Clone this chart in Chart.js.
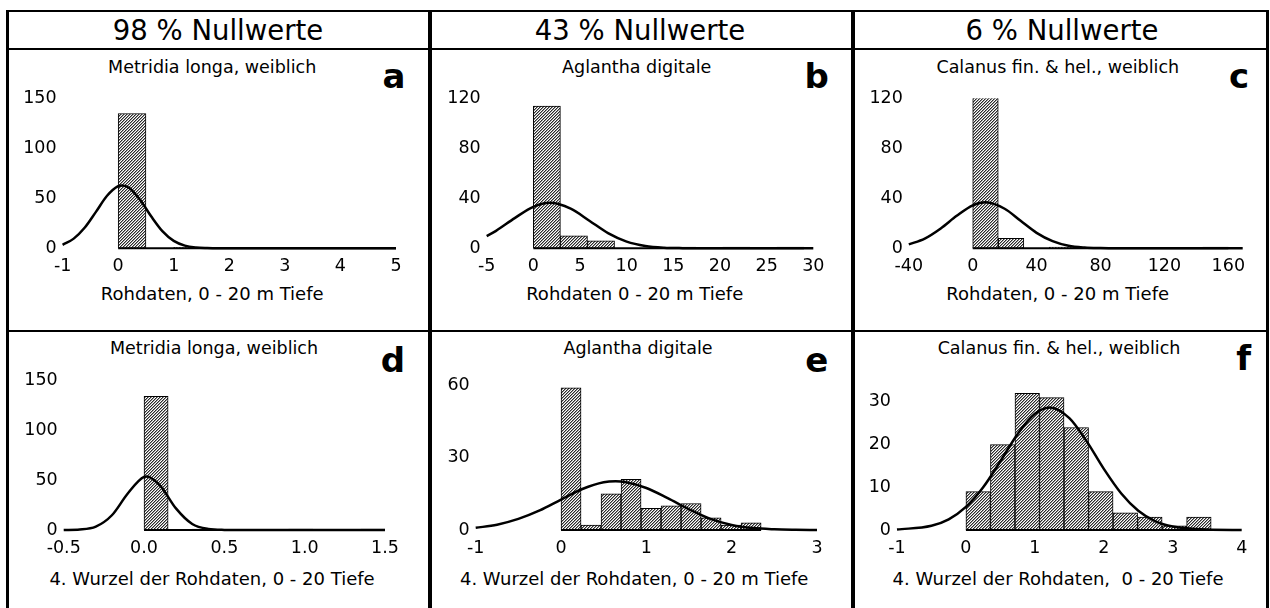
<!DOCTYPE html>
<html>
<head>
<meta charset="utf-8">
<script src="https://cdn.jsdelivr.net/npm/chart.js@4.4.0/dist/chart.umd.min.js"></script>
<style>
body { margin: 0; background: #fff; }
#page { position: relative; width: 1270px; height: 608px; overflow: hidden; font-family: "DejaVu Sans", sans-serif; color: #000; }
.ln { position: absolute; background: #000; }
.txt { position: absolute; line-height: 1; white-space: pre; transform: translateX(-50%); }
canvas { position: absolute; }
</style>
</head>
<body>
<div id="page"></div>
<script>
//texts
const headers = ["98 % Nullwerte", "43 % Nullwerte", "6 % Nullwerte"];
const titles = ["Metridia longa, weiblich", "Aglantha digitale", "Calanus fin. & hel., weiblich",
	"Metridia longa, weiblich", "Aglantha digitale", "Calanus fin. & hel., weiblich"];
const xTitles = ["Rohdaten, 0 - 20 m Tiefe", "Rohdaten 0 - 20 m Tiefe", "Rohdaten, 0 - 20 m Tiefe",
	"4. Wurzel der Rohdaten, 0 - 20 Tiefe", "4. Wurzel der Rohdaten, 0 - 20 m Tiefe", "4. Wurzel der Rohdaten,  0 - 20 Tiefe"];
const letters = ["a", "b", "c", "d", "e", "f"];

//panel a
const binsA = [0.25, 0.75, 1.25, 1.75, 2.25, 2.75, 3.25, 3.75, 4.25, 4.75];
const countsA = [135, 0, 1, 0, 0, 0, 0, 0, 0, 1];
const rangeA = [0, 5];
const curveXA = [-1, -0.8, -0.6, -0.4, -0.2, 0, 0.07, 0.2, 0.4, 0.6, 0.8, 1.0, 1.2, 1.4, 1.6, 1.8, 5];
const curveYA = [3.5, 9.7, 20.8, 36.5, 52.6, 62.2, 63, 60.4, 48.1, 31.5, 16.9, 7.4, 2.7, 0.8, 0.2, 0, 0];
const xTicksA = [-1, 0, 1, 2, 3, 4, 5];
const yTicksA = [0, 50, 100, 150];

//panel b
const binsB = [1.45, 4.35, 7.25, 10.15, 13.05, 15.95, 18.85, 21.75, 24.65, 27.55];
const countsB = [114, 10, 6, 0, 0, 1, 0, 1, 0, 1];
const rangeB = [0, 29];
const curveXB = [-5, -4, -2, 0, 1.8, 4, 6, 8, 10, 12, 14, 16, 18, 30];
const curveYB = [9.8, 14.0, 24.2, 33.2, 36.4, 31.7, 22.1, 12.2, 5.4, 1.9, 0.5, 0.1, 0, 0];
const xTicksB = [-5, 0, 5, 10, 15, 20, 25, 30];
const yTicksB = [0, 40, 80, 120];

//panel c
const binsC = [8, 24, 40, 56, 72, 88, 104, 120, 136, 152];
const countsC = [121, 8, 0, 1, 0, 0, 0, 0, 0, 1];
const rangeC = [0, 160];
const curveXC = [-40, -30, -20, -10, 0, 8, 20, 30, 40, 50, 60, 70, 80, 90, 169];
const curveYC = [3.1, 7.8, 15.9, 26.0, 34.4, 36.9, 31.7, 22.0, 12.4, 5.7, 2.0, 0.6, 0.15, 0, 0];
const xTicksC = [-40, 0, 40, 80, 120, 160];
const yTicksC = [0, 40, 80, 120];

//panel d
const binsD = [0.075, 0.225, 0.375, 0.525, 0.675, 0.825, 0.975, 1.125, 1.275, 1.425];
const countsD = [134, 0, 1, 0, 0, 0, 1, 0, 0, 1];
const rangeD = [0, 1.5];
const curveXD = [-0.5, -0.4, -0.3, -0.2, -0.1, 0, 0.017, 0.1, 0.2, 0.3, 0.4, 0.5, 0.6, 1.5];
const curveYD = [0, 0.5, 3.4, 14.8, 36.9, 53.3, 53.7, 44.5, 21.4, 6.0, 1.0, 0.1, 0, 0];
const xTicksD = [-0.5, 0, 0.5, 1, 1.5];
const xLabelsD = ["-0.5", "0.0", "0.5", "1.0", "1.5"];
const yTicksD = [0, 50, 100, 150];

//panel e
const binsE = [0.1173, 0.3518, 0.5863, 0.8208, 1.0553, 1.2898, 1.5243, 1.7588, 1.9933, 2.2278];
const countsE = [59, 2, 15, 21, 9, 10, 11, 5, 2, 3];
const rangeE = [0, 2.345];
const curveXE = [-1, -0.75, -0.5, -0.25, 0, 0.25, 0.5, 0.64, 0.75, 1, 1.25, 1.5, 1.75, 2, 2.25, 2.5, 2.75, 3];
const curveYE = [0.9, 2.2, 4.6, 8.1, 12.6, 17.0, 19.8, 20.2, 19.9, 17.4, 13.2, 8.6, 4.6, 2.1, 0.8, 0.3, 0.1, 0];
const xTicksE = [-1, 0, 1, 2, 3];
const yTicksE = [0, 30, 60];

//panel f
const binsF = [0.1778, 0.5335, 0.8892, 1.2449, 1.6006, 1.9563, 2.312, 2.6677, 3.0234, 3.3791];
const countsF = [9, 20, 32, 31, 24, 9, 4, 3, 1, 3];
const rangeF = [0, 3.557];
const curveXF = [-1, -0.5, -0.25, 0, 0.25, 0.5, 0.75, 1, 1.216, 1.5, 1.75, 2, 2.25, 2.5, 2.75, 3, 3.5, 4];
const curveYF = [0.1, 1.0, 2.5, 5.4, 10.0, 16.1, 22.5, 27.2, 28.7, 26.2, 20.8, 14.3, 8.6, 4.5, 2.0, 0.8, 0.1, 0];
const xTicksF = [-1, 0, 1, 2, 3, 4];
const yTicksF = [0, 10, 20, 30];

//panel layout: plot box [left, right, top, bottom] in page pixels and axis limits
const panels = [
	{ bins: binsA, counts: countsA, range: rangeA, cx: curveXA, cy: curveYA, xTicks: xTicksA, yTicks: yTicksA, xMin: -1, xMax: 5, yMax: 150, box: [62.6, 396, 96.7, 248.3] },
	{ bins: binsB, counts: countsB, range: rangeB, cx: curveXB, cy: curveYB, xTicks: xTicksB, yTicks: yTicksB, xMin: -5, xMax: 30, yMax: 120, box: [486.7, 813.3, 96.7, 248.3] },
	{ bins: binsC, counts: countsC, range: rangeC, cx: curveXC, cy: curveYC, xTicks: xTicksC, yTicks: yTicksC, xMin: -40, xMax: 169, yMax: 120, box: [908.8, 1242.7, 96.7, 248.3] },
	{ bins: binsD, counts: countsD, range: rangeD, cx: curveXD, cy: curveYD, xTicks: xTicksD, xLabels: xLabelsD, yTicks: yTicksD, xMin: -0.5, xMax: 1.5, yMax: 150, box: [63.7, 385, 378.3, 530] },
	{ bins: binsE, counts: countsE, range: rangeE, cx: curveXE, cy: curveYE, xTicks: xTicksE, yTicks: yTicksE, xMin: -1, xMax: 3, yMax: 62, box: [475.7, 817, 378.3, 530] },
	{ bins: binsF, counts: countsF, range: rangeF, cx: curveXF, cy: curveYF, xTicks: xTicksF, yTicks: yTicksF, xMin: -1, xMax: 4, yMax: 35, box: [897, 1241.7, 378.3, 530] },
];

const page = document.getElementById("page");

function line(x, y, w, h) {
	let d = document.createElement("div");
	d.className = "ln";
	d.style.cssText = "left:" + x + "px;top:" + y + "px;width:" + w + "px;height:" + h + "px";
	page.appendChild(d);
}

// text placed by center x and baseline y
function text(str, cx, base, size, bold) {
	let d = document.createElement("div");
	d.className = "txt";
	d.textContent = str;
	d.style.left = cx + "px";
	d.style.top = (base - 0.846 * size) + "px";
	d.style.fontSize = size + "px";
	if (bold) d.style.fontWeight = "bold";
	page.appendChild(d);
}

//grid lines
line(6, 10, 1263, 2);
line(6, 48, 1263, 2);
line(6, 330, 1263, 2);
line(6, 10, 3, 598);
line(428, 10, 4, 598);
line(851, 10, 4, 598);
line(1266, 10, 3, 598);

//headers and labels
const headerX = [218, 640, 1062];
headers.forEach((h, i) => text(h, headerX[i], 40.5, 27.5));
const titleX = [212.2, 636.7, 1057.8, 214, 638, 1059];
const titleY = [74, 74, 74, 355, 355, 355];
const axisX = [212.2, 634.7, 1057.7, 212, 634.2, 1058];
const axisY = [300, 300, 300, 585, 585, 585];
const letterX = [394, 816.7, 1239, 393, 816.7, 1243.7];
const letterY = [88, 88, 88, 371.5, 371.5, 370];
for (let i = 0; i < 6; i++) {
	text(titles[i], titleX[i], titleY[i], 17.5);
	text(xTitles[i], axisX[i], axisY[i], 18);
	text(letters[i], letterX[i], letterY[i], 34, true);
}

// hatched fill for the bars
function hatch() {
	let c = document.createElement("canvas");
	c.width = 3;
	c.height = 3;
	let g = c.getContext("2d");
	g.fillStyle = "#fff";
	g.fillRect(0, 0, 3, 3);
	g.fillStyle = "#9a9a9a";
	g.fillRect(0, 0, 1, 1);
	g.fillRect(2, 1, 1, 1);
	g.fillRect(1, 2, 1, 1);
	g.fillStyle = "#2a2a2a";
	g.fillRect(2, 0, 1, 1);
	g.fillRect(1, 1, 1, 1);
	g.fillRect(0, 2, 1, 1);
	return g.createPattern(c, "repeat");
}

const tickFont = { family: "'DejaVu Sans', sans-serif", size: 17.5 };

function makePanel(p) {
	let L = p.box[0], R = p.box[1], T = p.box[2], B = p.box[3];
	let cl = Math.floor(L) - 50;
	let ct = Math.floor(T) - 14;
	let w = Math.ceil(R) + 24 - cl;
	let h = Math.ceil(B) + 30 - ct;
	let cv = document.createElement("canvas");
	cv.width = w;
	cv.height = h;
	cv.style.left = cl + "px";
	cv.style.top = ct + "px";
	page.appendChild(cv);

	return new Chart(cv.getContext("2d"), {
		type: "bar",
		data: {
			datasets: [
				{
					type: "line",
					data: p.cx.map((x, i) => ({ x: x, y: p.cy[i] })),
					borderColor: "#000",
					borderWidth: 2.5,
					pointRadius: 0,
					cubicInterpolationMode: "monotone",
					fill: false,
					clip: false,
					order: 0,
				},
				{
					type: "line",
					data: [{ x: p.range[0], y: 0 }, { x: p.range[1], y: 0 }],
					borderColor: "#000",
					borderWidth: 2,
					pointRadius: 0,
					clip: false,
					order: 1,
				},
				{
					type: "bar",
					data: p.bins.map((x, i) => ({ x: x, y: p.counts[i] })),
					backgroundColor: hatch(),
					borderColor: "#000",
					borderWidth: 1,
					borderSkipped: false,
					barPercentage: 1,
					categoryPercentage: 1,
					order: 2,
				},
			],
		},
		options: {
			responsive: false,
			animation: false,
			devicePixelRatio: 1,
			layout: {
				padding: { left: L - Math.floor(L), top: T - ct, right: w - (R - cl), bottom: Math.ceil(B) - B },
			},
			plugins: {
				legend: { display: false },
				tooltip: { enabled: false },
			},
			scales: {
				x: {
					type: "linear",
					min: p.xMin,
					max: p.xMax,
					offset: false,
					grid: { display: false, drawTicks: false },
					border: { display: false },
					afterBuildTicks: (s) => { s.ticks = p.xTicks.map((v) => ({ value: v })); },
					afterFit: (s) => { s.height = 30; },
					ticks: {
						autoSkip: false,
						maxRotation: 0,
						padding: 8,
						color: "#000",
						font: tickFont,
						callback: (v, i) => (p.xLabels ? p.xLabels[i] : String(p.xTicks[i])),
					},
				},
				y: {
					type: "linear",
					min: 0,
					max: p.yMax,
					grid: { display: false, drawTicks: false },
					border: { display: false },
					afterBuildTicks: (s) => { s.ticks = p.yTicks.map((v) => ({ value: v })); },
					afterFit: (s) => { s.width = 50; },
					ticks: {
						padding: 6,
						color: "#000",
						font: tickFont,
						callback: (v, i) => String(p.yTicks[i]),
					},
				},
			},
		},
	});
}

panels.forEach(makePanel);
</script>
</body>
</html>
